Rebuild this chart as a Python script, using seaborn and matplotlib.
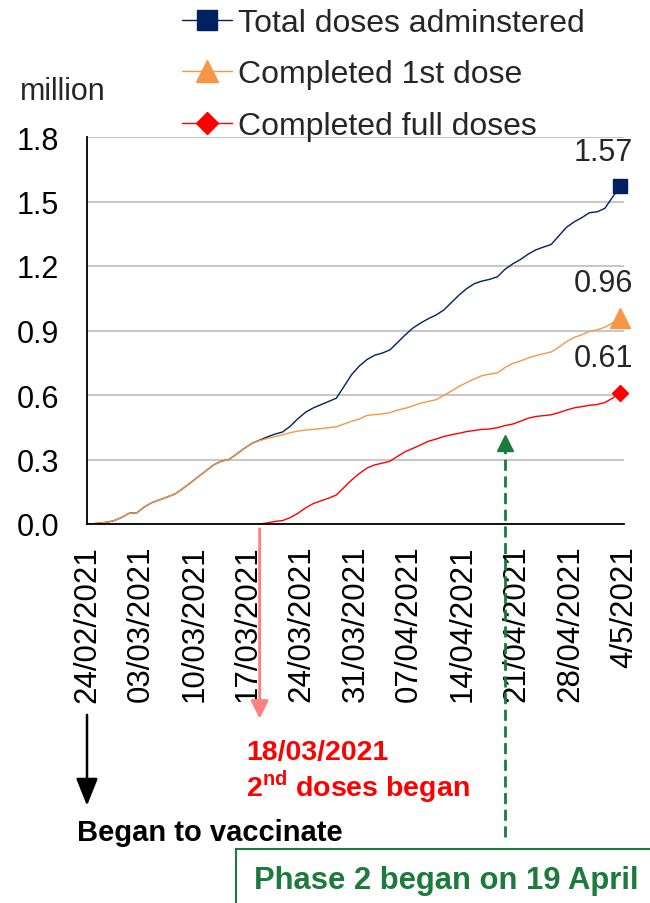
import numpy as np
import pandas as pd
import matplotlib
matplotlib.use("Agg")
import matplotlib.pyplot as plt
from matplotlib.lines import Line2D
from matplotlib.patches import Rectangle
from matplotlib.ticker import FormatStrFormatter
import seaborn as sns

# daily values, million doses, 24/02/2021 .. 04/05/2021
dates = pd.date_range("2021-02-24", periods=70, freq="D")

first_dose = [0.000, 0.004, 0.008, 0.015, 0.030, 0.050, 0.052, 0.080, 0.100, 0.113,
              0.126, 0.140, 0.165, 0.192, 0.220, 0.247, 0.275, 0.292, 0.300, 0.325,
              0.352, 0.375, 0.388, 0.398, 0.406, 0.415, 0.425, 0.432, 0.437, 0.440,
              0.444, 0.448, 0.452, 0.465, 0.478, 0.488, 0.505, 0.509, 0.512, 0.518,
              0.530, 0.538, 0.550, 0.562, 0.570, 0.578, 0.598, 0.618, 0.640, 0.658,
              0.675, 0.690, 0.697, 0.703, 0.728, 0.747, 0.758, 0.772, 0.783, 0.792,
              0.800, 0.822, 0.848, 0.868, 0.880, 0.896, 0.903, 0.915, 0.935, 0.958]

total_doses = [0.000, 0.004, 0.008, 0.015, 0.030, 0.050, 0.052, 0.080, 0.100, 0.113,
               0.126, 0.140, 0.165, 0.192, 0.220, 0.247, 0.275, 0.292, 0.300, 0.325,
               0.352, 0.375, 0.390, 0.405, 0.418, 0.428, 0.455, 0.490, 0.520, 0.540,
               0.555, 0.570, 0.585, 0.640, 0.695, 0.735, 0.765, 0.785, 0.795, 0.810,
               0.845, 0.880, 0.912, 0.935, 0.955, 0.972, 0.995, 1.030, 1.065, 1.095,
               1.118, 1.130, 1.138, 1.150, 1.185, 1.210, 1.230, 1.255, 1.275, 1.288,
               1.300, 1.340, 1.380, 1.405, 1.425, 1.448, 1.452, 1.468, 1.520, 1.570]

full_doses = [np.nan] * 22 + [
              0.000, 0.005, 0.012, 0.016, 0.030, 0.050, 0.075, 0.095,
              0.108, 0.120, 0.135, 0.170, 0.205, 0.235, 0.260, 0.275, 0.283, 0.292,
              0.315, 0.337, 0.352, 0.368, 0.385, 0.395, 0.407, 0.415, 0.422, 0.430,
              0.435, 0.440, 0.442, 0.448, 0.458, 0.465, 0.478, 0.492, 0.500, 0.504,
              0.508, 0.518, 0.530, 0.540, 0.546, 0.552, 0.556, 0.565, 0.585, 0.610]

series_names = ["Total doses adminstered", "Completed 1st dose", "Completed full doses"]
tick_labels = ["24/02/2021", "03/03/2021", "10/03/2021", "17/03/2021", "24/03/2021",
               "31/03/2021", "07/04/2021", "14/04/2021", "21/04/2021", "28/04/2021",
               "4/5/2021"]
second_dose_start = pd.Timestamp("2021-03-18")
phase2_start = pd.Timestamp("2021-04-19")

colors = {"Total doses adminstered": "#002060",
          "Completed 1st dose": "#f79646",
          "Completed full doses": "#ff0000"}
markers = {"Total doses adminstered": ("s", 10.5),
           "Completed 1st dose": ("^", 14),
           "Completed full doses": ("D", 8)}
legend_ms = {"Total doses adminstered": 14.5,
             "Completed 1st dose": 16,
             "Completed full doses": 11}
green = "#1b7a3c"

# points sit in the middle of each day slot
pos = np.arange(len(dates)) + 0.5
df = pd.DataFrame({"pos": pos,
                   series_names[0]: total_doses,
                   series_names[1]: first_dose,
                   series_names[2]: full_doses})
long = df.melt(id_vars="pos", var_name="series", value_name="value").dropna()

sns.set_style("white")
plt.rcParams["font.family"] = ["Liberation Sans", "DejaVu Sans"]
plt.rcParams["mathtext.fontset"] = "custom"
plt.rcParams["mathtext.bf"] = "Liberation Sans:bold"
plt.rcParams["mathtext.rm"] = "Liberation Sans"

fig = plt.figure(figsize=(6.5, 9.04), dpi=100)
ax = fig.add_axes([87 / 650, 1 - 525 / 904, 537 / 650, 387 / 904])

sns.lineplot(data=long, x="pos", y="value", hue="series", palette=colors,
             hue_order=series_names, estimator=None, linewidth=1.0, legend=False, ax=ax)

# end markers + value labels
for name in series_names:
    s = df[["pos", name]].dropna()
    xl, yl = s["pos"].iloc[-1], s[name].iloc[-1]
    m, ms = markers[name]
    ax.plot([xl], [yl], marker=m, markersize=ms, color=colors[name], linestyle="none",
            clip_on=False, zorder=5)
    ax.annotate("%.2f" % yl, xy=(xl, yl), xytext=(-12, 25), textcoords="offset points",
                ha="center", va="center", fontsize=22)

ax.set_xlim(0, 70)
ax.set_ylim(0, 1.8)
ax.set_yticks(np.arange(0, 1.81, 0.3))
ax.yaxis.set_major_formatter(FormatStrFormatter("%.1f"))
ax.set_xticks(np.arange(0, 71, 7))
ax.set_xticklabels(tick_labels, rotation=90, ha="center", va="top")
ax.set_xlabel("")
ax.set_ylabel("")
ax.yaxis.grid(True, color="#c8c8c8", linewidth=1.5)
ax.set_axisbelow(True)
for sp in ["top", "right"]:
    ax.spines[sp].set_visible(False)
for sp in ["left", "bottom"]:
    ax.spines[sp].set_color("black")
    ax.spines[sp].set_linewidth(1.3)
ax.tick_params(axis="both", direction="out", length=8, width=1.3, colors="black",
               labelsize=22)
ax.tick_params(axis="x", labelsize=22.5, pad=7)
ax.tick_params(axis="y", pad=12)

fig.text(20 / 650, 1 - 92 / 904, "million", fontsize=22, va="center", ha="left")

# legend
handles = [Line2D([], [], color=colors[n], lw=1.0, marker=markers[n][0],
                  markersize=legend_ms[n]) for n in series_names]
fig.legend(handles, series_names, loc="upper left", bbox_to_anchor=(182 / 650, 1 - 9 / 904),
           frameon=False, fontsize=23, handlelength=1.55, handletextpad=0.2,
           labelspacing=0.67, borderpad=0, borderaxespad=0)

xa = ax.get_xaxis_transform()
x2 = (second_dose_start - dates[0]).days + 0.5
x_ph2 = (phase2_start - dates[0]).days + 0.5

# 2nd doses arrow
ax.annotate("", xy=(x2, -0.51), xytext=(x2, -0.005), xycoords=xa, textcoords=xa,
            arrowprops=dict(arrowstyle="-|>,head_length=0.6,head_width=0.3",
                            color="#ff8080", lw=2, mutation_scale=18))
# began to vaccinate arrow
ax.annotate("", xy=(0, -0.735), xytext=(0, -0.486), xycoords=xa, textcoords=xa,
            arrowprops=dict(arrowstyle="-|>,head_length=0.7,head_width=0.28",
                            color="black", lw=1.8, mutation_scale=24))
# phase 2 dashed line with arrow head
ax.plot([x_ph2, x_ph2], [-0.81, 0.20], transform=xa, color=green, lw=2,
        linestyle=(0, (4, 2)), clip_on=False)
ax.plot([x_ph2], [0.21], transform=xa, marker="^", markersize=11, color=green,
        clip_on=False)

fig.text(246 / 650, 1 - 753 / 904, "18/03/2021", color="#ff0000", fontsize=20.5,
         fontweight="bold", va="center", ha="left")
fig.text(246 / 650, 1 - 787 / 904, r"2$^{\mathbf{nd}}$ doses began", color="#ff0000",
         fontsize=20.5, fontweight="bold", va="center", ha="left")
fig.text(77 / 650, 1 - 833 / 904, "Began to vaccinate", color="black", fontsize=21,
         fontweight="bold", va="center", ha="left")

fig.patches.append(Rectangle((236 / 650, -0.05), 0.8, 0.05 + 54 / 904,
                             transform=fig.transFigure, fill=False, edgecolor=green,
                             linewidth=1.5))
fig.text(254 / 650, 1 - 881 / 904, "Phase 2 began on 19 April", color=green,
         fontsize=22.3, fontweight="bold", va="center", ha="left")

fig.savefig("out.png", dpi=100)
